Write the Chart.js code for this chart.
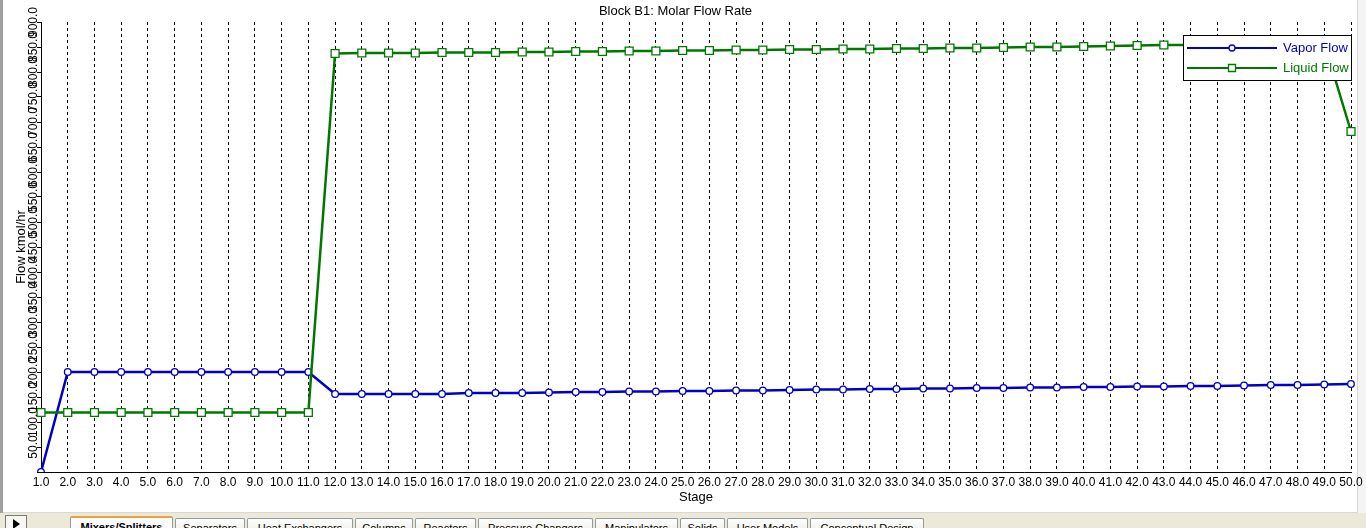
<!DOCTYPE html>
<html>
<head>
<meta charset="utf-8">
<script src="https://cdn.jsdelivr.net/npm/chart.js@4.4.0/dist/chart.umd.min.js"></script>
<style>
html,body{margin:0;padding:0;width:1366px;height:528px;overflow:hidden;background:#ece9d8;font-family:"Liberation Sans",Arial,sans-serif;}
#frame{position:absolute;left:0;top:0;width:1357px;height:512px;background:#fff;border-right:1px solid #d8d8d8;border-bottom:1px solid #d8d8d8;}
#rightpad{position:absolute;left:1358px;top:0;width:8px;height:513px;background:#f4f4f4;}
#leftbar{position:absolute;left:0;top:0;width:3px;height:513px;background:#a0a0a0;}
#c{position:absolute;left:0;top:0;}
#tabs{position:absolute;left:0;top:514px;width:1366px;height:14px;background:#ece9d8;}
.tab{position:absolute;top:4px;height:14px;border:1px solid #919b9c;border-bottom:none;border-radius:2px 2px 0 0;background:linear-gradient(#fefefe,#f0efe8);font-size:11px;line-height:12px;text-align:center;color:#000;white-space:nowrap;overflow:hidden;box-sizing:border-box;padding-top:3px;}
.tab.active{top:2px;height:16px;background:#fcfcfe;font-weight:bold;border-top:2px solid #e8a33d;padding-top:3px;}
#btn{position:absolute;left:5px;top:1px;width:22px;height:16px;border:1px solid #7a7a7a;box-sizing:border-box;background:#f6f6f2;}
#btn:after{content:"";position:absolute;left:7px;top:3px;border-left:7px solid #000;border-top:5px solid transparent;border-bottom:5px solid transparent;}
</style>
</head>
<body>
<div id="frame"></div>
<div id="rightpad"></div>
<div id="leftbar"></div>
<canvas id="c" width="1366" height="510"></canvas>
<div id="tabs">
  <div id="btn"></div>
</div>
<script>
// ---- data ----
const stages = ["1.0","2.0","3.0","4.0","5.0","6.0","7.0","8.0","9.0","10.0",
  "11.0","12.0","13.0","14.0","15.0","16.0","17.0","18.0","19.0","20.0",
  "21.0","22.0","23.0","24.0","25.0","26.0","27.0","28.0","29.0","30.0",
  "31.0","32.0","33.0","34.0","35.0","36.0","37.0","38.0","39.0","40.0",
  "41.0","42.0","43.0","44.0","45.0","46.0","47.0","48.0","49.0","50.0"];
const vaporFlow = [0,200,200,200,200,200,200,200,200,200,
  200,156,156,156,156,156,158,158,158,159,
  160,160,161,161,162,162,163,163,164,165,
  165,166,166,167,167,168,168,169,169,170,
  170,171,171,172,172,173,174,174,175,176];
const liquidFlow = [119,119,119,119,119,119,119,119,119,119,
  119,837,838,838,838,839,839,839,840,840,
  841,841,842,842,843,843,844,844,845,845,
  846,846,847,847,848,848,849,850,850,851,
  852,853,854,854,855,855,856,857,858,681];
const seriesNames = ["Vapor Flow","Liquid Flow"];
const chartTitle = "Block B1: Molar Flow Rate";
const xTitle = "Stage";
const yTitle = "Flow kmol/hr";
const yMin = 0, yMax = 900, yStep = 50;
const tabNames = ["Mixers/Splitters","Separators","Heat Exchangers","Columns","Reactors","Pressure Changers","Manipulators","Solids","User Models","Conceptual Design"];

// ---- tabs ----
const tabEdges = [70,175,247,355,415,478,595,680,727,810,926];
const tabsEl = document.getElementById('tabs');
tabNames.forEach((n,i)=>{
  const d = document.createElement('div');
  d.className = 'tab' + (i===0 ? ' active' : '');
  d.style.left = tabEdges[i] + 'px';
  d.style.width = (tabEdges[i+1] - tabEdges[i] - 2) + 'px';
  d.textContent = n;
  tabsEl.appendChild(d);
});

const BLUE = '#0000c8', GREEN = '#007800';
const FONT = '"Liberation Sans", Arial, sans-serif';

const overlayPlugin = {
  id: 'overlay',
  afterDraw(chart) {
    const ctx = chart.ctx, y = chart.scales.y, ca = chart.chartArea;
    ctx.save();
    // y tick labels, rotated
    ctx.font = '12px ' + FONT;
    ctx.fillStyle = '#000';
    ctx.textAlign = 'center';
    ctx.textBaseline = 'middle';
    y.ticks.forEach(t => {
      if (t.value === 0) return;
      const py = y.getPixelForValue(t.value);
      ctx.save();
      ctx.translate(34, py);
      ctx.rotate(-Math.PI / 2);
      ctx.fillText(t.value.toFixed(1), 0, 0);
      ctx.restore();
    });
    // axis titles
    ctx.font = '13px ' + FONT;
    ctx.save();
    ctx.translate(21, (ca.top + ca.bottom) / 2);
    ctx.rotate(-Math.PI / 2);
    ctx.fillText(yTitle, 0, 0);
    ctx.restore();
    ctx.fillText(xTitle, (ca.left + ca.right) / 2, 497);
    // legend
    const lx = 1183.5, ly = 35.5, lw = 168, lh = 45;
    ctx.fillStyle = '#fff';
    ctx.fillRect(lx, ly, lw, lh);
    ctx.strokeStyle = '#000';
    ctx.lineWidth = 1;
    ctx.strokeRect(lx, ly, lw, lh);
    const items = [[BLUE, 48, 'circle'], [GREEN, 68, 'rect']];
    items.forEach((it, i) => {
      const [col, yy, shape] = it;
      ctx.strokeStyle = col;
      ctx.lineWidth = 2;
      ctx.beginPath();
      ctx.moveTo(1187, yy); ctx.lineTo(1277, yy);
      ctx.stroke();
      ctx.fillStyle = '#fff';
      ctx.lineWidth = 1.3;
      ctx.beginPath();
      if (shape === 'circle') ctx.arc(1232, yy, 3, 0, Math.PI * 2);
      else ctx.rect(1228.5, yy - 3.5, 7, 7);
      ctx.fill(); ctx.stroke();
      ctx.fillStyle = col;
      ctx.textAlign = 'left';
      ctx.font = '13px ' + FONT;
      ctx.fillText(seriesNames[i], 1283, yy + 0.5);
    });
    ctx.restore();
  }
};

new Chart(document.getElementById('c'), {
  type: 'line',
  data: {
    labels: stages,
    datasets: [
      { label: seriesNames[1], data: liquidFlow, borderColor: GREEN, borderWidth: 2.5,
        pointStyle: 'rect', pointRadius: 5.6, pointBorderWidth: 1.3, pointBackgroundColor: '#fff',
        pointBorderColor: GREEN, tension: 0 },
      { label: seriesNames[0], data: vaporFlow, borderColor: BLUE, borderWidth: 2.5,
        pointStyle: 'circle', pointRadius: 3.3, pointBorderWidth: 1.3, pointBackgroundColor: '#fff',
        pointBorderColor: BLUE, tension: 0 }
    ]
  },
  options: {
    responsive: false,
    animation: false,
    devicePixelRatio: 1,
    layout: { padding: { left: 0, right: 15, top: 0, bottom: 0 } },
    plugins: {
      legend: { display: false },
      tooltip: { enabled: false },
      title: { display: true, text: chartTitle, color: '#000',
        font: { family: FONT, size: 13, weight: 'normal', lineHeight: 1.2 },
        padding: { top: 4, bottom: 2.4 } }
    },
    scales: {
      x: {
        type: 'category',
        offset: false,
        grid: { display: true, color: '#000', lineWidth: 1, drawTicks: false, tickLength: 0 },
        border: { display: true, color: '#000', width: 1, dash: [3, 3] },
        ticks: { autoSkip: false, maxRotation: 0, minRotation: 0, padding: 3, color: '#000',
                 font: { family: FONT, size: 12 } },
        afterFit(s) { s.height = 38; }
      },
      y: {
        min: yMin, max: yMax,
        grid: { display: true, drawOnChartArea: false, drawTicks: true, tickLength: 4, tickColor: '#000' },
        border: { display: true, color: '#000', width: 1 },
        ticks: { display: false, stepSize: yStep },
        afterFit(s) { s.width = 41; }
      }
    }
  },
  plugins: [overlayPlugin]
});
</script>
</body>
</html>
